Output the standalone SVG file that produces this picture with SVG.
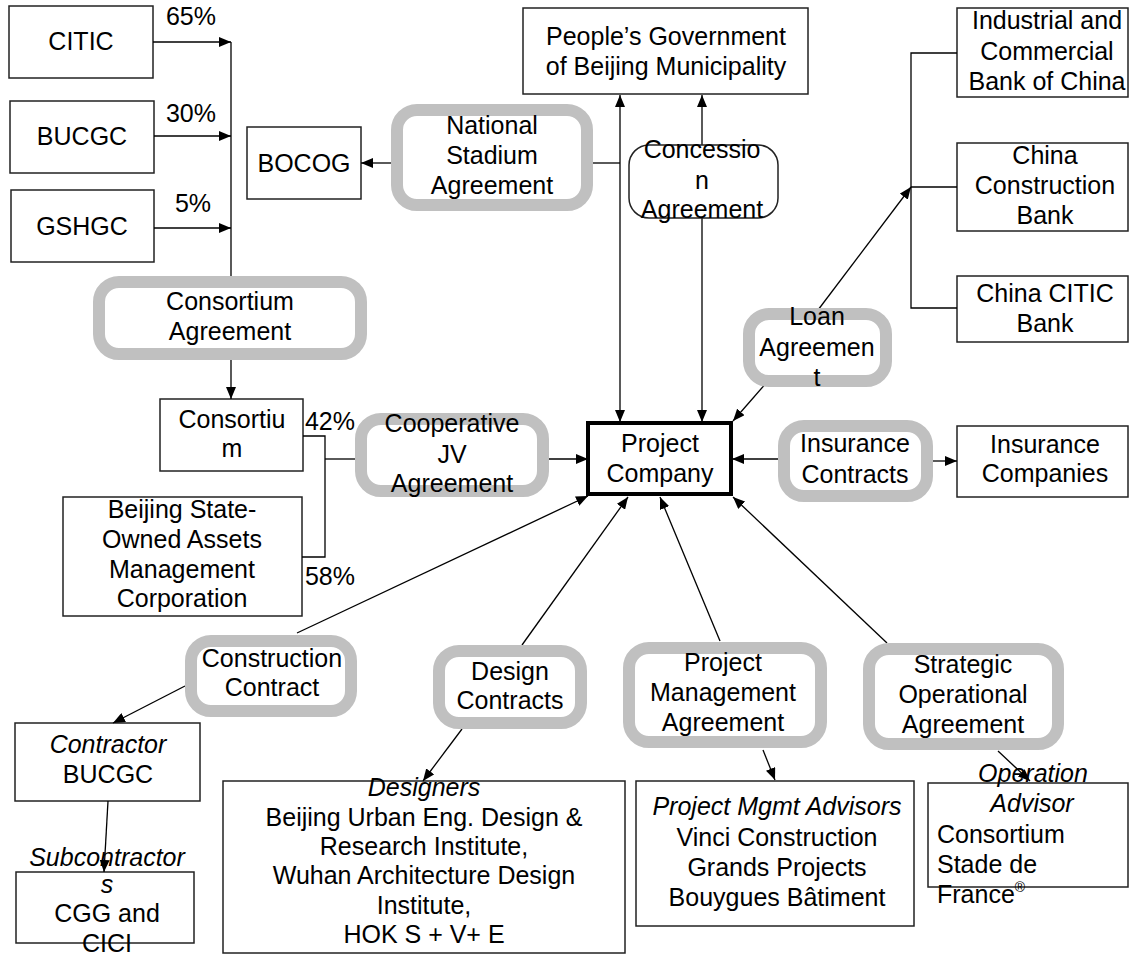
<svg xmlns="http://www.w3.org/2000/svg" width="1130" height="964" viewBox="0 0 1130 964">
<defs>
<marker id="ah" viewBox="0 0 12 10" refX="12" refY="5" markerWidth="12" markerHeight="10" markerUnits="userSpaceOnUse" orient="auto-start-reverse">
<path d="M0,0 L12,5 L0,10 Z" fill="#000"/>
</marker>
<style>
.box{fill:#fff;stroke:#222;stroke-width:1.5}
.pc{fill:#fff;stroke:#000;stroke-width:4}
.agr{fill:#fff;stroke:#c0c0c0;stroke-width:12}
.conc{fill:#fff;stroke:#222;stroke-width:1.5}
.c{fill:none;stroke:#000;stroke-width:1.3}
.a{marker-end:url(#ah)}
.b{marker-start:url(#ah);marker-end:url(#ah)}
text{font-family:"Liberation Sans",Arial,sans-serif;font-size:25px;fill:#000;text-anchor:middle}
.it{font-style:italic}
.l{text-anchor:start}
</style>
</defs>
<rect width="1130" height="964" fill="#fff"/>

<g id="n-citic"><rect class="box" x="9" y="6" width="144" height="72"/><text x="81" y="50">CITIC</text></g>
<g id="n-bucgc"><rect class="box" x="10" y="101" width="144" height="72"/><text x="82" y="145">BUCGC</text></g>
<g id="n-gshgc"><rect class="box" x="11" y="190" width="143" height="72"/><text x="82" y="235">GSHGC</text></g>
<g id="n-bocog"><rect class="box" x="247" y="127" width="114" height="72"/><text x="304" y="172">BOCOG</text></g>
<g id="n-gov"><rect class="box" x="523" y="8" width="285" height="86"/><text x="666" y="45">People’s Government</text><text x="666" y="75">of Beijing Municipality</text></g>
<g id="n-icbc"><rect class="box" x="957" y="8" width="171" height="89"/><text x="1047" y="29">Industrial and</text><text x="1047" y="60">Commercial</text><text x="1047" y="90">Bank of China</text></g>
<g id="n-ccb"><rect class="box" x="957" y="143" width="171" height="88"/><text x="1045" y="164">China</text><text x="1045" y="194">Construction</text><text x="1045" y="224">Bank</text></g>
<g id="n-ccitic"><rect class="box" x="957" y="276" width="171" height="66"/><text x="1045" y="302">China CITIC</text><text x="1045" y="332">Bank</text></g>
<g id="n-consortium"><rect class="box" x="160" y="399" width="143" height="72"/><text x="232" y="428">Consortiu</text><text x="232" y="457">m</text></g>
<g id="n-bsoamc"><rect class="box" x="63" y="497" width="239" height="119"/><text x="182" y="518">Beijing State-</text><text x="182" y="548">Owned Assets</text><text x="182" y="578">Management</text><text x="182" y="607">Corporation</text></g>
<g id="n-pc"><rect class="pc" x="588" y="423" width="143" height="71"/><text x="660" y="452">Project</text><text x="660" y="482">Company</text></g>
<g id="n-insco"><rect class="box" x="957" y="426" width="171" height="71"/><text x="1045" y="453">Insurance</text><text x="1045" y="482">Companies</text></g>
<g id="n-contractor"><rect class="box" x="15" y="723" width="185" height="78"/><text class="it" x="108" y="753">Contractor</text><text x="108" y="783">BUCGC</text></g>
<g id="n-sub"><rect class="box" x="16" y="872" width="178" height="71"/><text class="it" x="107" y="866">Subcontractor</text><text class="it" x="107" y="893">s</text><text x="107" y="922">CGG and</text><text x="107" y="952">CICI</text></g>
<g id="n-designers"><rect class="box" x="223" y="781" width="402" height="172"/><text class="it" x="424" y="796">Designers</text><text x="424" y="826">Beijing Urban Eng. Design &amp;</text><text x="424" y="855">Research Institute,</text><text x="424" y="884">Wuhan Architecture Design</text><text x="424" y="914">Institute,</text><text x="424" y="943">HOK S + V+ E</text></g>
<g id="n-pma"><rect class="box" x="636" y="781" width="278" height="145"/><text class="it" x="777" y="815">Project Mgmt Advisors</text><text x="777" y="846">Vinci Construction</text><text x="777" y="876">Grands Projects</text><text x="777" y="906">Bouygues Bâtiment</text></g>
<g id="n-opadv"><rect class="box" x="928" y="783" width="200" height="104"/><text class="it" x="1033" y="782">Operation</text><text class="it" x="1032" y="812">Advisor</text><text class="l" x="937" y="843">Consortium</text><text class="l" x="937" y="873">Stade de</text><text class="l" x="937" y="903">France<tspan font-size="14" dy="-11">®</tspan></text></g>

<g id="connectors">
<line class="c a" x1="153" y1="42" x2="231" y2="42"/>
<line class="c a" x1="154" y1="136" x2="231" y2="136"/>
<line class="c a" x1="154" y1="228" x2="231" y2="228"/>
<line class="c" x1="231" y1="42" x2="231" y2="276"/>
<line class="c a" x1="231" y1="360" x2="231" y2="399"/>
<polyline class="c" points="303,436 325,436 325,557 302,557"/>
<line class="c" x1="325" y1="459" x2="355" y2="459"/>
<line class="c a" x1="549" y1="459" x2="588" y2="459"/>
<line class="c b" x1="620" y1="95" x2="620" y2="422"/>
<line class="c a" x1="702" y1="145" x2="702" y2="95"/>
<line class="c a" x1="702" y1="218" x2="702" y2="422"/>
<line class="c" x1="620" y1="163" x2="593" y2="163"/>
<line class="c a" x1="391" y1="163" x2="361" y2="163"/>
<polyline class="c" points="957,53 911,53 911,308 957,308"/>
<line class="c" x1="911" y1="187" x2="957" y2="187"/>
<line class="c a" x1="815" y1="314" x2="911" y2="187"/>
<line class="c a" x1="768" y1="381" x2="733" y2="421"/>
<line class="c a" x1="778" y1="459" x2="732" y2="459"/>
<line class="c a" x1="933" y1="461" x2="957" y2="461"/>
<line class="c a" x1="297" y1="633" x2="588" y2="496"/>
<line class="c a" x1="185" y1="686" x2="113" y2="723"/>
<line class="c a" x1="108" y1="801" x2="104" y2="872"/>
<line class="c a" x1="522" y1="645" x2="628" y2="497"/>
<line class="c a" x1="462" y1="729" x2="423" y2="781"/>
<line class="c a" x1="720" y1="641" x2="660" y2="497"/>
<line class="c a" x1="763" y1="750" x2="775" y2="780"/>
<line class="c a" x1="887" y1="643" x2="733" y2="497"/>
<line class="c a" x1="998" y1="751" x2="1030" y2="781"/>
</g>

<g id="n-nsa"><rect class="agr" x="397" y="110" width="190" height="95" rx="20"/><text x="492" y="134">National</text><text x="492" y="164">Stadium</text><text x="492" y="194">Agreement</text></g>
<g id="n-concession"><rect class="conc" x="629" y="145" width="149" height="73" rx="20"/><text x="702" y="158">Concessio</text><text x="702" y="189">n</text><text x="702" y="218">Agreement</text></g>
<g id="n-consagr"><rect class="agr" x="99" y="282" width="262" height="72" rx="20"/><text x="230" y="310">Consortium</text><text x="230" y="340">Agreement</text></g>
<g id="n-jv"><rect class="agr" x="361" y="419" width="182" height="72" rx="20"/><text x="452" y="432">Cooperative</text><text x="452" y="463">JV</text><text x="452" y="492">Agreement</text></g>
<g id="n-loan"><rect class="agr" x="749" y="314" width="137" height="67" rx="20"/><text x="817" y="325">Loan</text><text x="817" y="356">Agreemen</text><text x="817" y="386">t</text></g>
<g id="n-inscon"><rect class="agr" x="784" y="426" width="143" height="70" rx="20"/><text x="855" y="452">Insurance</text><text x="855" y="483">Contracts</text></g>
<g id="n-cc"><rect class="agr" x="191" y="641" width="160" height="70" rx="20"/><text x="272" y="667">Construction</text><text x="272" y="696">Contract</text></g>
<g id="n-dc"><rect class="agr" x="439" y="651" width="142" height="72" rx="20"/><text x="510" y="680">Design</text><text x="510" y="709">Contracts</text></g>
<g id="n-pmagr"><rect class="agr" x="629" y="648" width="192" height="94" rx="20"/><text x="723" y="671">Project</text><text x="723" y="701">Management</text><text x="723" y="731">Agreement</text></g>
<g id="n-soa"><rect class="agr" x="869" y="649" width="189" height="95" rx="20"/><text x="963" y="673">Strategic</text><text x="963" y="703">Operational</text><text x="963" y="733">Agreement</text></g>

<g id="labels"><text x="191" y="25">65%</text><text x="191" y="122">30%</text><text x="193" y="212">5%</text><text x="330" y="430">42%</text><text x="330" y="585">58%</text></g>
</svg>
